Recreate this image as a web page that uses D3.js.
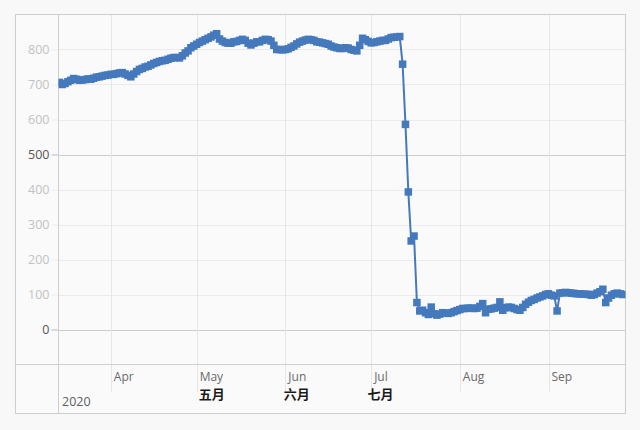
<!DOCTYPE html>
<html><head><meta charset="utf-8">
<script src="https://cdn.jsdelivr.net/npm/d3@7"></script>
<style>
html,body{margin:0;padding:0;background:#f8f8f8;}
svg{display:block;}
text{font-family:"Open Sans",sans-serif;}
</style></head><body>
<svg id="c" width="640" height="430"></svg>
<script>
// ---- data ----
const startDate = "2020-03-14";   // first daily value
const values = [
  706,700,703,708,712,717,715,712,713,714,
  716,715,718,721,722,724,726,727,729,729,
  731,733,734,730,726,722,730,737,743,746,
  750,752,756,760,763,766,768,769,772,775,
  777,777,776,782,790,796,805,810,815,820,
  824,828,832,836,841,845,830,824,820,818,
  818,822,823,826,829,826,818,813,818,822,
  822,826,829,828,824,812,800,800,799,800,
  802,806,810,816,821,824,827,829,828,826,
  822,821,819,817,815,810,807,805,803,803,
  805,804,800,798,796,812,832,828,823,819,
  820,822,824,826,826,830,834,835,836,837,
  758,586,393,253,267,77,53,55,48,43,
  64,45,41,44,48,47,46,48,51,54,
  57,60,60,61,61,60,61,66,74,48,
  58,59,61,63,79,55,62,64,63,60,
  57,55,63,72,78,83,86,90,93,96,
  100,102,98,96,53,104,105,106,105,104,
  103,102,102,101,101,100,98,100,104,108,
  115,77,90,98,102,104,102,100
];
const yTicks = [0,100,200,300,400,500,600,700,800];
const yMajor = [0,500];
const monthTicks = ["2020-04-01","2020-05-01","2020-06-01","2020-07-01","2020-08-01","2020-09-01"];
const monthLabels = ["Apr","May","Jun","Jul","Aug","Sep"];
const cnLabels = ["","五月","六月","七月","",""];
const yearLabel = "2020";

// ---- chart ----
const parse = d3.timeParse("%Y-%m-%d");
const d0 = parse(startDate);
const data = values.map((v,i)=>({date:d3.timeDay.offset(d0,i), v}));

const svg = d3.select("#c");
const L=58.5, R=625.5, T=14.5, B=364.5, FB=413.5, FL=15.5;

const x = d3.scaleTime()
  .domain([new Date(2020,2,13,17), new Date(2020,8,27,22)])
  .range([L,R]);
const y = d3.scaleLinear().domain([-100,900]).range([B,T]);

svg.append("rect").attr("x",FL).attr("y",T).attr("width",R-FL).attr("height",FB-T)
  .attr("fill","#fafafa").attr("stroke","none");

// y gridlines
svg.append("g").selectAll("line").data(yTicks).join("line")
  .attr("x1",L).attr("x2",R)
  .attr("y1",d=>Math.round(y(d))+0.5).attr("y2",d=>Math.round(y(d))+0.5)
  .attr("stroke",d=>yMajor.includes(d)?"#cdcdcd":"#ebebeb");

// y axis ticks and labels
const ya = svg.append("g").attr("transform",`translate(${L},0)`)
  .call(d3.axisLeft(y).tickValues(yTicks).tickSize(7).tickPadding(2).tickFormat(d3.format("d")));
ya.select(".domain").remove();
ya.selectAll(".tick line").attr("stroke",d=>yMajor.includes(d)?"#bdbdbd":"#ececec");
ya.selectAll(".tick text")
  .attr("fill",d=>yMajor.includes(d)?"#555":"#c2c2c2")
  .style("font-size","12.5px").style("font-family","'Open Sans',sans-serif");

// month gridlines (through axis band)
const mDates = monthTicks.map(parse);
svg.append("g").selectAll("line").data(mDates).join("line")
  .attr("x1",d=>Math.round(x(d))+0.5).attr("x2",d=>Math.round(x(d))+0.5)
  .attr("y1",T).attr("y2",392)
  .attr("stroke","#e6e6e6");

// axis band lines
svg.append("line").attr("x1",FL).attr("x2",R).attr("y1",B).attr("y2",B).attr("stroke","#cfcfcf");
svg.append("line").attr("x1",L).attr("x2",L).attr("y1",T).attr("y2",FB).attr("stroke","#cfcfcf");

// frame
svg.append("rect").attr("x",FL).attr("y",T).attr("width",R-FL).attr("height",FB-T)
  .attr("fill","none").attr("stroke","#cdcdcd");

// month labels
const ml = svg.append("g");
mDates.forEach((d,i)=>{
  const t = ml.append("text").attr("x",x(d)+3).attr("y",381)
    .attr("fill","#6a6a6a").style("font-size","12px").text(monthLabels[i]);
  if (cnLabels[i]) {
    const bb = t.node().getBBox();
    ml.append("text").attr("x",bb.x+bb.width/2).attr("y",399)
      .attr("text-anchor","middle").attr("fill","#1a1a1a")
      .style("font-family","'Noto Sans CJK SC',sans-serif").style("font-weight","bold")
      .style("font-size","13px").text(cnLabels[i]);
  }
});
svg.append("text").attr("x",L+3.5).attr("y",406).attr("fill","#5e5e5e")
  .style("font-size","12.5px").text(yearLabel);

// series
svg.append("clipPath").attr("id","pc").append("rect")
  .attr("x",L).attr("y",T).attr("width",R-L).attr("height",B-T);
const g = svg.append("g").attr("clip-path","url(#pc)");
const col = "#4479bd";
g.append("path").datum(data)
  .attr("d",d3.line().x(d=>x(d.date)).y(d=>y(d.v)))
  .attr("fill","none").attr("stroke",col).attr("stroke-width",2);
const s = 7.5;
g.selectAll("rect.m").data(data).join("rect").attr("class","m")
  .attr("x",d=>x(d.date)-s/2).attr("y",d=>y(d.v)-s/2)
  .attr("width",s).attr("height",s).attr("fill",col);
</script>
</body></html>
